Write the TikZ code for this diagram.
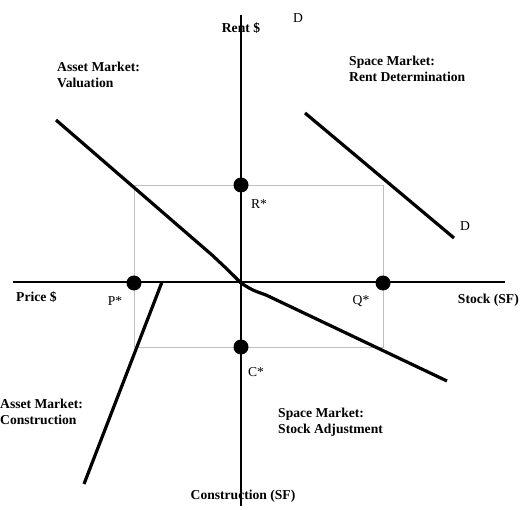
\documentclass[tikz,border=0pt]{standalone}
\usepackage{fontspec}
\setmainfont{Liberation Serif}
\begin{document}
\begin{tikzpicture}[x=1pt,y=-1pt,
  axis/.style={line width=1.6pt},
  curve/.style={line width=3.2pt},
  guide/.style={draw=black!25,line width=0.8pt},
  eqdot/.style={circle,fill=black,inner sep=0pt,minimum size=15pt},
  blab/.style={font=\fontsize{13.6}{16}\selectfont\bfseries,align=left,inner sep=0pt},
  nlab/.style={font=\fontsize{13.6}{16}\selectfont,inner sep=0pt}]
\useasboundingbox (0,0) rectangle (527,510);
% guide rectangle
\draw[guide] (134,185) rectangle (383,347);
% axes
\coordinate (vt) at (241,15);
\coordinate (vb) at (241,506);
\coordinate (hl) at (13,282);
\coordinate (hr) at (505,282);
\coordinate (O) at (241,283);
\draw[axis] (vt) -- (vb);
\draw[axis] (hl) -- (hr);
% curves
\coordinate (v1) at (56,120);
\coordinate (s1) at (447,381);
\coordinate (c1) at (162,282);
\coordinate (c2) at (84,484);
\coordinate (d1) at (305,113);
\coordinate (d2) at (454,238);
\draw[curve] (v1) -- (212,255) .. controls (228,270) .. (O);
\draw[curve] (O) .. controls (252,290) .. (266,295) -- (s1);
\draw[curve] (c1) -- (c2);
\draw[curve] (d1) -- (d2);
% dots
\node[eqdot] (R) at (241,185) {};
\node[eqdot] (P) at (134,283) {};
\node[eqdot] (Q) at (383,283) {};
\node[eqdot] (C) at (241,347) {};
% labels
\node[blab] (rent) at (241,28) {Rent \$};
\node[nlab] (dtop) at (298,18) {D};
\node[blab,anchor=west] (av) at (57,75) {Asset Market:\\Valuation};
\node[blab,anchor=west] (sr) at (349,69) {Space Market:\\Rent Determination};
\node[nlab] (dbot) at (465,226) {D};
\node[nlab] (rs) at (259,204) {R*};
\node[blab,anchor=west] (price) at (16,297) {Price \$};
\node[nlab] (ps) at (115,301) {P*};
\node[nlab] (qs) at (361,301) {Q*};
\node[blab,anchor=east] (stock) at (519,300) {Stock (SF)};
\node[nlab] (cs) at (256,372) {C*};
\node[blab,anchor=west] (ac) at (0,412) {Asset Market:\\Construction};
\node[blab,anchor=west] (ss) at (278,422) {Space Market:\\Stock Adjustment};
\node[blab] (cons) at (243,496) {Construction (SF)};
\end{tikzpicture}
\end{document}
